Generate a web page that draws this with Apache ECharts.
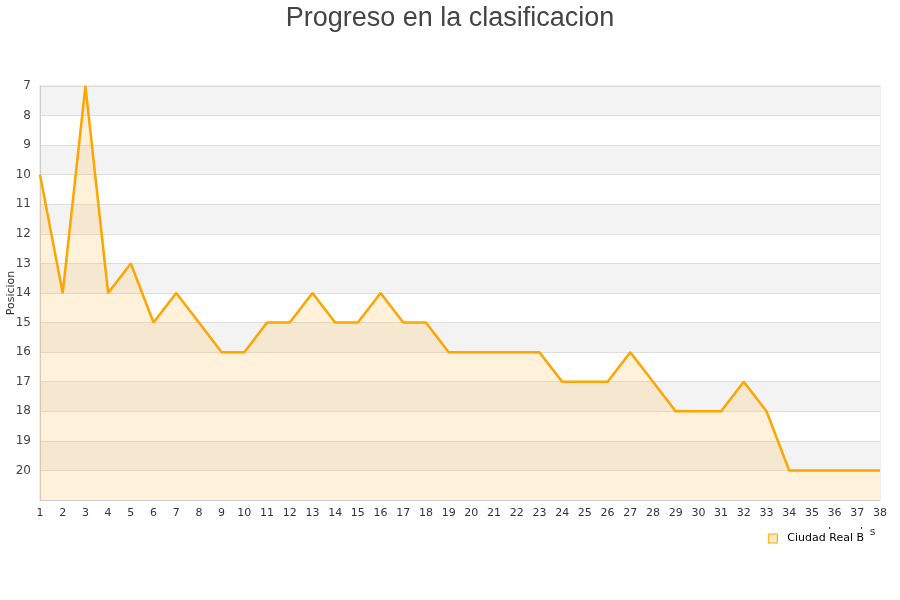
<!DOCTYPE html>
<html><head><meta charset="utf-8">
<script src="https://cdn.jsdelivr.net/npm/echarts@6/dist/echarts.min.js"></script>
<style>html,body{margin:0;padding:0;background:#fff}#c{width:900px;height:600px}</style>
</head><body><div id="c"></div>
<script>
const jornadas = ['1','2','3','4','5','6','7','8','9','10','11','12','13','14','15','16','17','18','19','20','21','22','23','24','25','26','27','28','29','30','31','32','33','34','35','36','37','38'];
const posiciones = [10,14,7,14,13,15,14,15,16,16,15,15,14,15,15,14,15,15,16,16,16,16,16,17,17,17,16,17,18,18,18,17,18,20,20,20,20,20];
const equipo = 'Ciudad Real B';
const titulo = 'Progreso en la clasificacion';

const chart = echarts.init(document.getElementById('c'), null, {renderer:'canvas'});
chart.setOption({
  animation: false,
  backgroundColor: '#fff',
  title: {text: titulo, left: 'center', top: 0, textStyle: {fontSize: 27, fontWeight: 'normal', color: '#444', fontFamily: 'Liberation Sans'}},
  grid: {left: 40, right: 20, top: 86, bottom: 100, show: true, borderColor: '#ddd', borderWidth: 1, outerBoundsMode: 'none', containLabel: false},
  legend: {data: [equipo], right: 30, top: 529, itemWidth: 9, itemHeight: 9, itemGap: 8, icon: 'rect', backgroundColor: '#fff', padding: [4, 6, 4, 6], z: 10,
    itemStyle: {color: '#fde9c4', borderColor: '#ffa500', borderWidth: 1},
    textStyle: {fontSize: 11, color: '#000', fontFamily: 'DejaVu Sans', padding: [0, 0, 0, 5]}},
  graphic: [{type: 'text', left: 828, top: 527, z: 1, style: {text: 'Jornadas', fontSize: 11, fill: '#333', fontFamily: 'DejaVu Sans'}}],
  xAxis: {type: 'category', data: jornadas, boundaryGap: false,
    axisLine: {lineStyle: {color: '#ccc'}}, axisTick: {show: false},
    axisLabel: {color: '#333', fontSize: 11, margin: 8, interval: 0, fontFamily: 'DejaVu Sans'},
    splitLine: {show: false}},
  yAxis: {type: 'value', inverse: true, min: 7, max: 21, interval: 1,
    name: 'Posicion', nameLocation: 'middle', nameGap: 23, nameMoveOverlap: false, nameTextStyle: {fontSize: 11, color: '#333', fontFamily: 'DejaVu Sans'},
    axisLine: {show: true, lineStyle: {color: '#ccc'}}, axisTick: {show: false},
    axisLabel: {color: '#444', fontSize: 12, margin: 9, fontFamily: 'DejaVu Sans', formatter: v => v >= 21 ? '' : v},
    splitLine: {show: true, lineStyle: {color: '#ddd'}},
    splitArea: {show: true, areaStyle: {color: ['#f3f3f3', '#ffffff']}}},
  series: [{name: equipo, type: 'line', data: posiciones, symbol: 'none', smooth: false,
    lineStyle: {color: '#ffa500', width: 2.5},
    itemStyle: {color: '#fde9c4', borderColor: '#ffa500'},
    areaStyle: {color: 'rgba(255,190,80,0.3)', origin: 'end'}}]
});
</script></body></html>
